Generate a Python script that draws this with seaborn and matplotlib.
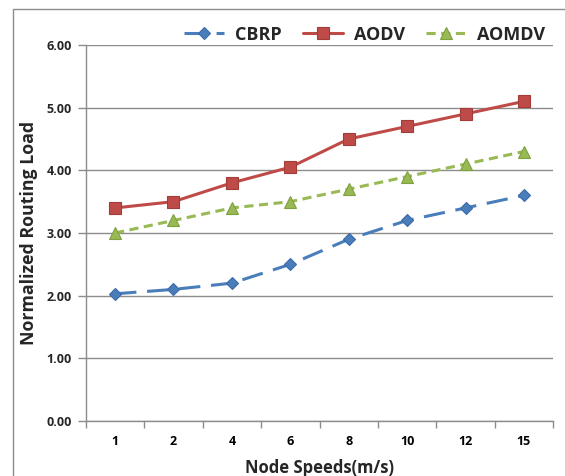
import matplotlib
matplotlib.use("Agg")
import matplotlib.pyplot as plt
import seaborn as sns
import pandas as pd
from matplotlib.patches import Rectangle
from matplotlib.ticker import FixedLocator

speeds = ["1", "2", "4", "6", "8", "10", "12", "15"]
cbrp = [2.03, 2.10, 2.20, 2.50, 2.90, 3.20, 3.40, 3.60]
aodv = [3.40, 3.50, 3.80, 4.05, 4.50, 4.70, 4.90, 5.10]
aomdv = [3.00, 3.20, 3.40, 3.50, 3.70, 3.90, 4.10, 4.30]
series_names = ["CBRP", "AODV", "AOMDV"]

sns.set_theme(style="white")
plt.rcParams["font.family"] = ["Open Sans", "DejaVu Sans"]

fig = plt.figure(figsize=(5.65, 4.76), dpi=100)
ax = fig.add_axes([0.152, 0.1155, 0.827, 0.79])

styles = {
    "CBRP": dict(color="#4A7EBB", marker="D", ms=6.5, dashes=(7, 3.5), lw=2.2, mec="#3A6AA8"),
    "AODV": dict(color="#BE4B48", marker="s", ms=8.5, dashes=None, lw=2.2, mec="#A33B38"),
    "AOMDV": dict(color="#98B954", marker="^", ms=8.5, dashes=(3, 1.8), lw=2.2, mec="#7FA03F"),
}
values = {"CBRP": cbrp, "AODV": aodv, "AOMDV": aomdv}

for name in series_names:
    st = styles[name]
    df = pd.DataFrame({"speed": speeds, "load": values[name]})
    sns.lineplot(data=df, x="speed", y="load", ax=ax, color=st["color"], marker=st["marker"],
                 markersize=st["ms"], linewidth=st["lw"], label=name,
                 markeredgecolor=st["mec"], markeredgewidth=0.8)
    line = ax.get_lines()[-1]
    if st["dashes"] is not None:
        line.set_dashes(st["dashes"])

ax.set_xlim(-0.5, len(speeds) - 0.5)
ax.set_ylim(0, 6)
ax.set_yticks([0, 1, 2, 3, 4, 5, 6])
ax.set_yticklabels([f"{v:.2f}" for v in [0, 1, 2, 3, 4, 5, 6]])
ax.yaxis.grid(True, color="#8C8C8C", linewidth=1.0)
ax.set_axisbelow(True)

ax.xaxis.set_minor_locator(FixedLocator([i - 0.5 for i in range(len(speeds) + 1)]))
ax.tick_params(axis="x", which="major", length=0, pad=10, labelsize=9, colors="#000000")
ax.tick_params(axis="x", which="minor", length=5, width=1, color="#8C8C8C", direction="out", bottom=True)
ax.tick_params(axis="y", which="major", length=6, width=1, color="#8C8C8C", direction="out", left=True,
               labelsize=9, pad=4)
for lab in ax.get_xticklabels() + ax.get_yticklabels():
    lab.set_fontweight("bold")

for s in ["top", "right"]:
    ax.spines[s].set_visible(False)
for s in ["left", "bottom"]:
    ax.spines[s].set_color("#8C8C8C")
    ax.spines[s].set_linewidth(1.0)

ax.set_xlabel("Node Speeds(m/s)", fontsize=12, fontweight="bold", labelpad=8)
ax.set_ylabel("Normalized Routing Load", fontsize=12.8, fontweight="bold", labelpad=6)

leg = ax.legend(loc="lower right", bbox_to_anchor=(1.0, 0.982), ncol=3, frameon=False,
                handlelength=2.2, columnspacing=1.2, handletextpad=0.6,
                borderaxespad=0.05, prop={"weight": "bold", "size": 13})

fig.patches.append(Rectangle((13 / 565, -0.1), 1.2, 1.0 - 9 / 476 + 0.1,
                             transform=fig.transFigure, fill=False, edgecolor="#8C8C8C",
                             linewidth=1.0))

fig.savefig("out.png", dpi=100)
